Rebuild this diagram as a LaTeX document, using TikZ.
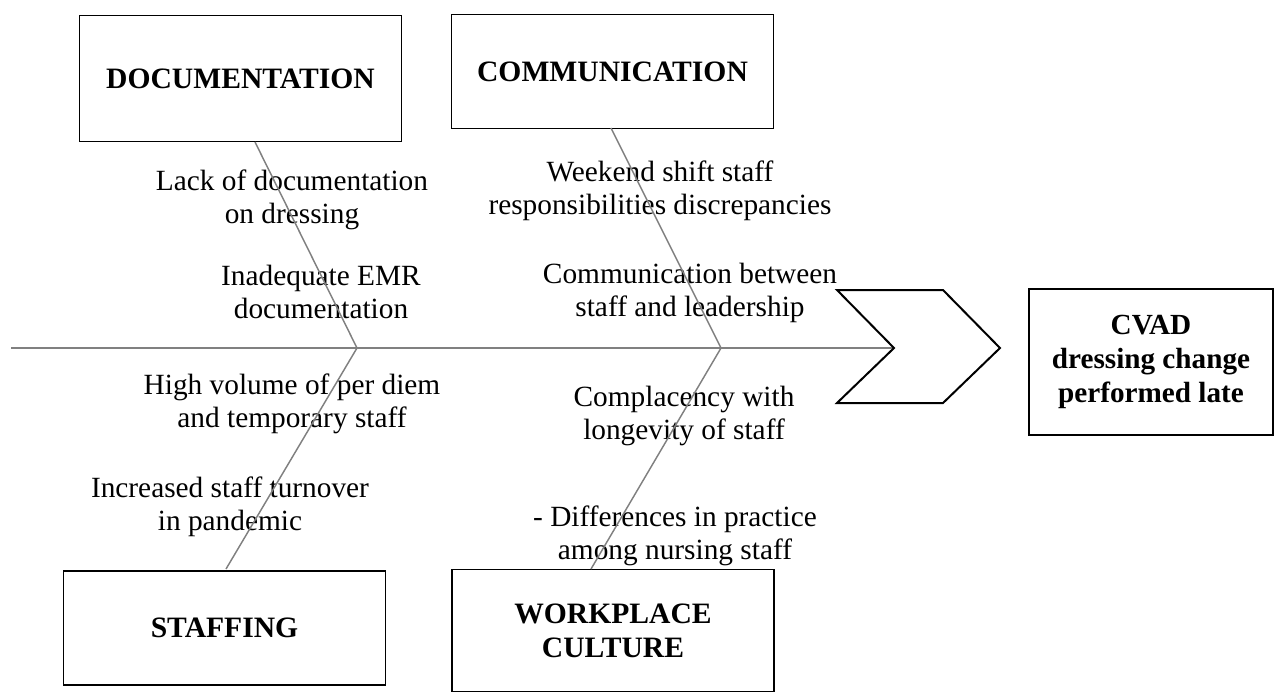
\documentclass[tikz,border=0pt]{standalone}
\usepackage{fontspec}
\setmainfont{Liberation Serif}
\begin{document}
\begin{tikzpicture}[x=0.75pt,y=-0.75pt]\tikzset{cause/.style = {shape=rectangle,draw,line width=0.8pt,inner sep=0pt,align=center,font=\fontsize{22.2}{25.5}\selectfont\bfseries}, item/.style = {inner sep=0pt,align=center,font=\fontsize{22}{24.75}\selectfont}, bone/.style = {draw=gray,line width=1.1pt}}

		\useasboundingbox (0,0) rectangle (1275,694);

		\node[cause, minimum width=242pt, minimum height=95pt] (Doc) at (240.5,78.5) {DOCUMENTATION};
		\node[cause, minimum width=242pt, minimum height=85pt] (Com) at (612.5,71.5) {COMMUNICATION};
		\node[cause, minimum width=242pt, minimum height=85.5pt] (Staff) at (224.5,628) {STAFFING};
		\node[cause, minimum width=241.5pt, minimum height=92pt] (Cult) at (613,630.5) {WORKPLACE\\CULTURE};
		\node[cause, minimum width=183pt, minimum height=109.5pt, font=\fontsize{21.9}{25.5}\selectfont\bfseries] (Late) at (1151,362) {CVAD\\dressing change\\performed late};

		\coordinate (D_1) at (255,142);
		\coordinate (C_1) at (611,128);
		\coordinate (S_1) at (226,569);
		\coordinate (W_1) at (591,569);
		\coordinate (J_1) at (357,348);
		\coordinate (J_2) at (721,348);
		\coordinate (Tail) at (11,348);
		\coordinate (Notch) at (894,348);

		\node[item] (D_a) at (292,200) {Lack of documentation\\on dressing};
		\node[item] (D_b) at (321,292) {Inadequate EMR\\documentation};
		\node[item] (C_a) at (660,191) {Weekend shift staff\\responsibilities discrepancies};
		\node[item] (C_b) at (690,293) {Communication between\\staff and leadership};
		\node[item] (S_a) at (292,404) {High volume of per diem\\and temporary staff};
		\node[item] (S_b) at (230,507) {Increased staff turnover\\in pandemic};
		\node[item] (W_a) at (684,416) {Complacency with\\longevity of staff};
		\node[item] (W_b) at (675,536) {- Differences in practice\\among nursing staff};

		\draw[bone] (D_1) -- (J_1) -- (S_1);
		\draw[bone] (C_1) -- (J_2) -- (W_1);
		\draw[gray, line width=1.8pt] (Tail) -- (Notch);
		\draw[line width=1.5pt, line join=miter] (837,290) -- (943,290) -- (1000,348) -- (943,403) -- (837,403) -- (Notch) -- cycle;
	\end{tikzpicture}
\end{document}
